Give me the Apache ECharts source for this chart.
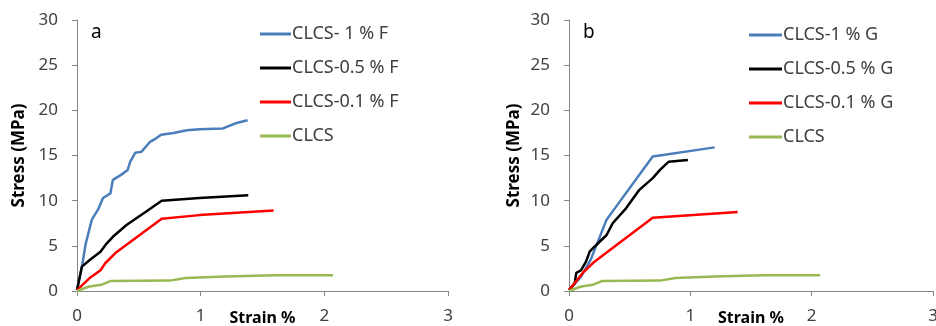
<!DOCTYPE html>
<html>
<head>
<meta charset="utf-8">
<script src="https://cdn.jsdelivr.net/npm/echarts@6/dist/echarts.min.js"></script>
<style>
  html, body { margin: 0; padding: 0; background: #fff; }
  #main { width: 936px; height: 326px; }
</style>
</head>
<body>
<div id="main"></div>
<script>
// panel a (fibre F)
var strainF1 = [0, 0.04, 0.07, 0.12, 0.17, 0.21, 0.27, 0.29, 0.35, 0.41, 0.43, 0.47, 0.52, 0.59, 0.64, 0.68, 0.78, 0.89, 0.99, 1.18, 1.29, 1.38];
var stressF1 = [0.1, 2.7, 5.2, 7.9, 9.0, 10.3, 10.8, 12.3, 12.8, 13.4, 14.3, 15.3, 15.4, 16.5, 16.9, 17.3, 17.5, 17.8, 17.9, 18.0, 18.6, 18.9];
var strainF05 = [0, 0.04, 0.1, 0.19, 0.23, 0.29, 0.4, 0.56, 0.685, 0.99, 1.385];
var stressF05 = [0.1, 2.7, 3.4, 4.35, 5.1, 6.0, 7.3, 8.8, 10.0, 10.3, 10.6];
var strainF01 = [0, 0.1, 0.19, 0.23, 0.31, 0.685, 0.99, 1.59];
var stressF01 = [0.1, 1.4, 2.3, 3.1, 4.2, 8.0, 8.4, 8.9];

// panel b (G)
var strainG1 = [0, 0.1, 0.18, 0.31, 0.69, 1.2];
var stressG1 = [0.1, 1.6, 3.5, 7.9, 14.9, 15.9];
var strainG05 = [0, 0.047, 0.06, 0.1, 0.14, 0.17, 0.21, 0.31, 0.36, 0.47, 0.58, 0.69, 0.75, 0.82, 0.98];
var stressG05 = [0.1, 0.85, 2.0, 2.3, 3.25, 4.35, 4.9, 6.2, 7.5, 9.15, 11.2, 12.5, 13.4, 14.3, 14.5];
var strainG01 = [0, 0.12, 0.21, 0.31, 0.69, 1.39];
var stressG01 = [0.1, 2.1, 3.25, 4.25, 8.1, 8.75];

// plain CLCS, same in both panels
var strainC = [0, 0.1, 0.2, 0.27, 0.75, 0.88, 1.2, 1.6, 2.07];
var stressC = [0, 0.5, 0.7, 1.1, 1.15, 1.45, 1.6, 1.75, 1.75];

var namesA = ['CLCS- 1 % F', 'CLCS-0.5 % F', 'CLCS-0.1 % F', 'CLCS'];
var namesB = ['CLCS-1 % G', 'CLCS-0.5 % G', 'CLCS-0.1 % G', 'CLCS'];
var colors = ['#4a7ebb', '#000000', '#ff0000', '#98b954'];

function pairs(xs, ys) {
  return xs.map(function (x, i) { return [x, ys[i]]; });
}

var font = 'Noto Sans';
var txtColor = '#404040';

function xAxis(idx) {
  return {
    type: 'value', gridIndex: idx, min: 0, max: 3, interval: 1,
    name: 'Strain %', nameLocation: 'middle', nameGap: 19, nameMoveOverlap: false,
    nameTextStyle: { fontFamily: font, fontWeight: 'bold', fontSize: 16, color: '#000' },
    axisLine: { lineStyle: { color: '#868686', width: 1 } },
    axisTick: { show: true, length: 5, lineStyle: { color: '#868686' } },
    axisLabel: { fontFamily: font, fontSize: 17, color: txtColor, margin: 17 },
    splitLine: { show: false }
  };
}
function yAxis(idx, gap) {
  return {
    type: 'value', gridIndex: idx, min: 0, max: 30, interval: 5,
    name: 'Stress (MPa)', nameLocation: 'middle', nameGap: gap, nameMoveOverlap: false,
    nameTextStyle: { fontFamily: font, fontWeight: 'bold', fontSize: 17, color: '#000' },
    axisLine: { show: true, lineStyle: { color: '#868686', width: 1 } },
    axisTick: { show: true, length: 5, lineStyle: { color: '#868686' } },
    axisLabel: { fontFamily: font, fontSize: 17, color: txtColor, margin: 19 },
    splitLine: { show: false }
  };
}
function line(name, idx, data, color) {
  return {
    name: name, type: 'line', xAxisIndex: idx, yAxisIndex: idx,
    data: data, showSymbol: false, symbol: 'none',
    lineStyle: { color: color, width: 2.5 }, itemStyle: { color: color },
    animation: false
  };
}
function legend(names, left, top, w) {
  return {
    orient: 'vertical', left: left, top: top, data: names,
    icon: 'rect', itemWidth: w, itemHeight: 3, itemGap: 16,
    textStyle: { fontFamily: font, fontSize: 18, lineHeight: 18, color: txtColor, padding: [0, 0, 0, -4] }
  };
}

var chart = echarts.init(document.getElementById('main'));
var option = {
  backgroundColor: '#fff',
  grid: [
    { left: 77, width: 371, top: 20, bottom: 35, outerBoundsMode: 'none', containLabel: false },
    { left: 569, width: 364, top: 20, bottom: 35, outerBoundsMode: 'none', containLabel: false }
  ],
  xAxis: [xAxis(0), xAxis(1)],
  yAxis: [yAxis(0, 49), yAxis(1, 46)],
  legend: [legend(namesA, 255, 20, 31), legend(namesB, 744, 21, 33)],
  graphic: [
    { type: 'text', left: 91, top: 23, style: { text: 'a', fontFamily: font, fontSize: 19, fill: '#000' } },
    { type: 'text', left: 583, top: 23, style: { text: 'b', fontFamily: font, fontSize: 19, fill: '#000' } }
  ],
  series: [
    line(namesA[0], 0, pairs(strainF1, stressF1), colors[0]),
    line(namesA[1], 0, pairs(strainF05, stressF05), colors[1]),
    line(namesA[2], 0, pairs(strainF01, stressF01), colors[2]),
    line(namesA[3], 0, pairs(strainC, stressC), colors[3]),
    line(namesB[0], 1, pairs(strainG1, stressG1), colors[0]),
    line(namesB[1], 1, pairs(strainG05, stressG05), colors[1]),
    line(namesB[2], 1, pairs(strainG01, stressG01), colors[2]),
    line(namesB[3], 1, pairs(strainC, stressC), colors[3])
  ]
};
chart.setOption(option);
</script>
</body>
</html>
